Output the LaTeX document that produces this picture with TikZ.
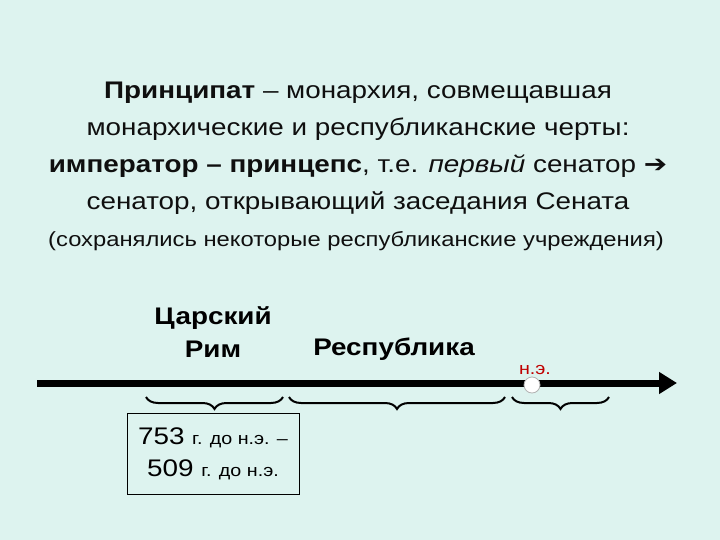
\documentclass[tikz,border=0pt]{standalone}
\usepackage{fontspec}
\setmainfont[FakeStretch=1.16]{Liberation Sans}
\newfontfamily\dejavu[FakeStretch=1.16]{DejaVu Sans}
\usetikzlibrary{arrows.meta,decorations.pathreplacing}
\definecolor{bgmint}{RGB}{221,243,239}
\definecolor{txtgray}{RGB}{15,15,15}
\definecolor{nered}{RGB}{192,0,0}
\begin{document}
\begin{tikzpicture}[x=1pt,y=-1pt,
  title/.style={align=center,font=\fontsize{24}{37}\selectfont,text=txtgray,inner sep=0},
  era/.style={align=center,font=\fontsize{24}{33}\selectfont\bfseries,inner sep=0},
  bracestyle/.style={decorate,decoration={brace,amplitude=12pt},line width=2pt},
  datebox/.style={draw=black,line width=0.8pt,minimum width=172pt,minimum height=81pt,inner sep=0,align=center}]
\fill[bgmint] (0,0) rectangle (720,540);
\useasboundingbox (0,0) rectangle (720,540);
\node[title] (t1) at (358,148) {\textbf{Принципат} – монархия, совмещавшая\\
монархические и республиканские черты:\\
\textbf{император – принцепс}, т.е. \textit{первый} сенатор {\dejavu\bfseries ➔}\\
сенатор, открывающий заседания Сената};
\node[title,font=\fontsize{20.5}{23}\selectfont] (t2) at (356,241) {(сохранялись некоторые республиканские учреждения)};
\node[era] (tsar) at (213,332) {Царский\\Рим};
\node[era] (resp) at (394,349) {Республика};
\coordinate (ls) at (37,383);
\coordinate (le) at (677,383);
\draw[line width=7pt,-{Triangle[length=18pt,width=21pt]}] (ls) -- (le);
\node[circle,minimum size=16pt,inner sep=0,draw=gray!60,line width=0.8pt,fill=white] (zero) at (532,385) {};
\node[text=nered,font=\fontsize{17}{17}\selectfont,inner sep=0] (ne) at (535,370) {н.э.};
\coordinate (b1r) at (283,397); \coordinate (b1l) at (146,397);
\coordinate (b2r) at (505,397); \coordinate (b2l) at (289,397);
\coordinate (b3r) at (609,397); \coordinate (b3l) at (512,397);
\draw[bracestyle] (b1r) -- (b1l);
\draw[bracestyle] (b2r) -- (b2l);
\draw[bracestyle] (b3r) -- (b3l);
\node[datebox,font=\fontsize{17}{17}\selectfont] (dates) at (213,453.5) {{\fontsize{24}{24}\selectfont 753 }г. до н.э. –\\[11pt]
{\fontsize{24}{24}\selectfont 509 }г. до н.э.};
\end{tikzpicture}
\end{document}
